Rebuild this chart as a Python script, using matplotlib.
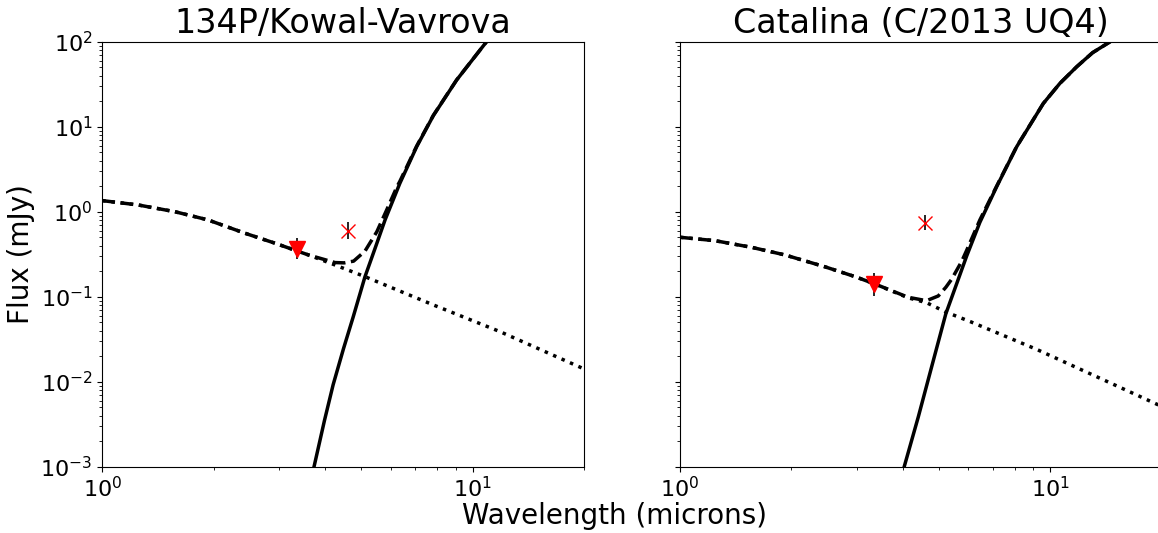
import numpy as np
import matplotlib
matplotlib.use('Agg')
import matplotlib.pyplot as plt

# Values (wavelength in microns, flux in mJy)
titles = ['134P/Kowal-Vavrova', 'Catalina (C/2013 UQ4)']

# 134P/Kowal-Vavrova
wl_refl_1 = [1.0, 1.25, 1.57, 1.93, 2.43, 2.93, 3.6, 4.25, 5.12, 7.83, 11.85, 20.0]
fx_refl_1 = [1.35, 1.20, 1.0, 0.80, 0.557, 0.425, 0.31, 0.236, 0.172, 0.080, 0.0388, 0.0141]
wl_therm_1 = [3.73, 3.98, 4.20, 4.48, 4.76, 5.12, 5.45, 5.80, 6.36, 7.06, 7.83, 9.05, 10.9]
fx_therm_1 = [0.001, 0.0035, 0.0092, 0.0245, 0.0582, 0.172, 0.37, 0.80, 2.16, 5.82, 13.5, 35.4, 100.0]
wl_total_1 = [1.0, 1.25, 1.57, 1.93, 2.43, 2.93, 3.6, 4.25, 4.5, 4.77, 5.12, 5.51,
              5.86, 6.24, 6.36, 7.06, 7.83, 9.05, 10.9]
fx_total_1 = [1.35, 1.20, 1.0, 0.80, 0.557, 0.425, 0.31, 0.252, 0.250, 0.262, 0.344, 0.58,
              1.05, 1.95, 2.28, 5.92, 13.6, 35.5, 100.0]

# Catalina (C/2013 UQ4)
wl_refl_2 = [1.0, 1.243, 1.56, 1.92, 2.46, 2.97, 3.36, 4.13, 4.63, 5.22, 6.07, 9.18, 15.3, 20.0]
fx_refl_2 = [0.50, 0.456, 0.381, 0.31, 0.225, 0.172, 0.141, 0.097, 0.085, 0.066, 0.051, 0.024, 0.0087, 0.0051]
wl_therm_2 = [4.03, 4.40, 4.78, 5.22, 5.94, 6.45, 7.16, 8.11, 9.57, 10.61, 11.78, 13.0, 14.5]
fx_therm_2 = [0.001, 0.00387, 0.015, 0.063, 0.30, 0.75, 1.97, 5.82, 18.8, 32.4, 50.8, 74.3, 100.0]
wl_total_2 = [1.0, 1.243, 1.56, 1.92, 2.46, 2.97, 3.36, 4.13, 4.63, 4.98, 5.22, 5.41,
              5.76, 5.94, 6.45, 7.16, 8.11, 9.57, 10.61, 11.78, 13.0, 14.5]
fx_total_2 = [0.50, 0.456, 0.381, 0.31, 0.225, 0.172, 0.141, 0.0984, 0.0897, 0.102, 0.129, 0.16,
              0.26, 0.35, 0.80, 2.0, 5.85, 18.8, 32.4, 50.8, 74.3, 100.0]

# WISE photometry: W1 (triangle) and W2 (cross)
w1_wl = 3.35
w2_wl = 4.6
w1_flux = [0.367, 0.141]
w1_err_lo = [0.092, 0.039]
w1_err_hi = [0.12, 0.05]
w2_flux = [0.597, 0.743]
w2_err_lo = [0.126, 0.142]
w2_err_hi = [0.16, 0.18]

panels = [
    (wl_refl_1, fx_refl_1, wl_therm_1, fx_therm_1, wl_total_1, fx_total_1),
    (wl_refl_2, fx_refl_2, wl_therm_2, fx_therm_2, wl_total_2, fx_total_2),
]

fig = plt.figure(figsize=(11.58, 5.33), dpi=100)
ax1 = fig.add_axes([0.0883, 0.1244, 0.4162, 0.7974])
ax2 = fig.add_axes([0.5872, 0.1244, 0.4162, 0.7974])

for i, ax in enumerate([ax1, ax2]):
    wr, fr, wt, ft, ws, fs = panels[i]
    ax.plot(wr, fr, 'k:', lw=2.5)
    ax.plot(wt, ft, 'k-', lw=2.5)
    ax.plot(ws, fs, 'k--', lw=2.5)

    # photometry points
    ax.errorbar([w1_wl], [w1_flux[i]], yerr=[[w1_err_lo[i]], [w1_err_hi[i]]],
                fmt='none', ecolor='k', elinewidth=1.2, zorder=4)
    ax.plot([w1_wl], [w1_flux[i]], 'rv', ms=11, zorder=5)
    ax.errorbar([w2_wl], [w2_flux[i]], yerr=[[w2_err_lo[i]], [w2_err_hi[i]]],
                fmt='none', ecolor='k', elinewidth=1.2, zorder=4)
    ax.plot([w2_wl], [w2_flux[i]], 'rx', ms=10, mew=1.0, zorder=5)

    ax.set_xscale('log')
    ax.set_yscale('log')
    ax.set_xlim(1, 20)
    ax.set_ylim(1e-3, 1e2)
    ax.set_title(titles[i], fontsize=24)
    ax.tick_params(labelsize=16)

ax1.set_ylabel('Flux (mJy)', fontsize=20)
ax2.tick_params(labelleft=False)
fig.text(0.531, 0.005, 'Wavelength (microns)', fontsize=20, ha='center', va='bottom')

fig.savefig('out.png', dpi=100)
